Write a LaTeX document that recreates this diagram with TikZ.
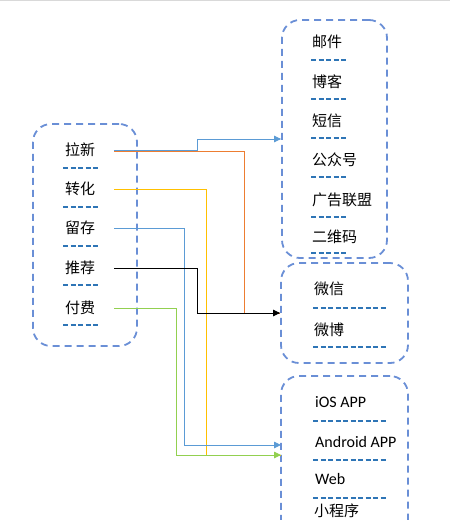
\documentclass[tikz,border=0pt]{standalone}
\usepackage{fontspec}
\setmainfont{Carlito}
\newfontfamily\cjk{Noto Sans CJK SC}
\usetikzlibrary{arrows.meta}
\definecolor{boxblue}{HTML}{6A8FD6}
\definecolor{dashblue}{HTML}{2E75B6}
\definecolor{lblue}{HTML}{5B9BD5}
\definecolor{lorange}{HTML}{ED7D31}
\definecolor{lyellow}{HTML}{FFC000}
\definecolor{lgreen}{HTML}{92D050}
\tikzset{
  groupbox/.style={draw=boxblue, line width=1.8pt, dash pattern=on 7pt off 5pt, rounded corners=18pt, inner sep=0pt},
  itemtext/.style={anchor=west, inner sep=0pt, font=\cjk\fontsize{15}{18}\selectfont},
  lattext/.style={anchor=west, inner sep=0pt, font=\fontsize{16}{19}\selectfont},
  sepline/.style={draw=dashblue, line width=1.3pt, dash pattern=on 5pt off 2.5pt},
  conn/.style={line width=0.9pt},
  tip/.style={-{Triangle[length=7pt,width=6.5pt]}}
}
\begin{document}
\begin{tikzpicture}[x=1pt,y=-1pt]
\useasboundingbox (0,0) rectangle (450,520);
\clip (0,0) rectangle (450,520);
\draw[gray!30, line width=1.2pt] (0,0.6) -- (450,0.6);
% boxes
\node[groupbox, minimum width=104pt, minimum height=222pt] (boxL) at (85,235) {};
\node[groupbox, minimum width=105pt, minimum height=238pt] (boxA) at (334.5,139) {};
\node[groupbox, minimum width=127pt, minimum height=100pt] (boxB) at (344.5,313) {};
\node[groupbox, minimum width=127pt, minimum height=170pt] (boxC) at (344.5,461) {};
% left items
\node[itemtext] (l1) at (65,150) {拉新};
\node[itemtext] (l2) at (65,189) {转化};
\node[itemtext] (l3) at (65,228) {留存};
\node[itemtext] (l4) at (65,268) {推荐};
\node[itemtext] (l5) at (65,308) {付费};
\foreach \y in {168,207,246,285,325} \draw[sepline] (63,\y) -- (99,\y);
% box A items
\node[itemtext] (a1) at (312,42) {邮件};
\node[itemtext] (a2) at (312,82) {博客};
\node[itemtext] (a3) at (312,121) {短信};
\node[itemtext] (a4) at (312,160) {公众号};
\node[itemtext] (a5) at (312,200) {广告联盟};
\node[itemtext] (a6) at (312,237) {二维码};
\foreach \y in {60,99,138,177,217,253} \draw[sepline] (311,\y) -- (346,\y);
% box B items
\node[itemtext] (b1) at (314,289) {微信};
\node[itemtext] (b2) at (314,330) {微博};
\foreach \y in {308,347} \draw[sepline] (313,\y) -- (387,\y);
% box C items
\node[lattext] (c1) at (315,402) {iOS APP};
\node[lattext] (c2) at (315,442) {Android APP};
\node[lattext] (c3) at (315,479) {Web};
\node[itemtext] (c4) at (314,510.5) {小程序};
\foreach \y in {421,460,498} \draw[sepline] (313,\y) -- (387,\y);
% connector ends
\coordinate (s1) at (114,150);
\coordinate (s1o) at (114,151.5);
\coordinate (s2) at (114,189);
\coordinate (s3) at (114,228);
\coordinate (s4) at (114,268);
\coordinate (s5) at (114,308);
\coordinate (tC1) at (281,445);
\coordinate (tC2) at (281,455);
% connectors
\draw[conn, lorange] (s1o) -- ++(130,0) |- (boxB.west);
\draw[conn, lblue, tip] (s1) -- ++(83,0) |- (boxA.west);
\draw[conn, lyellow] (s2) -- ++(92,0) |- (tC2);
\draw[conn, lblue, tip] (s3) -- ++(70,0) |- (tC1);
\draw[conn, lgreen, tip] (s5) -- ++(62,0) |- (tC2);
\draw[conn, black, tip] (s4) -- ++(83,0) |- (boxB.west);
\end{tikzpicture}
\end{document}
